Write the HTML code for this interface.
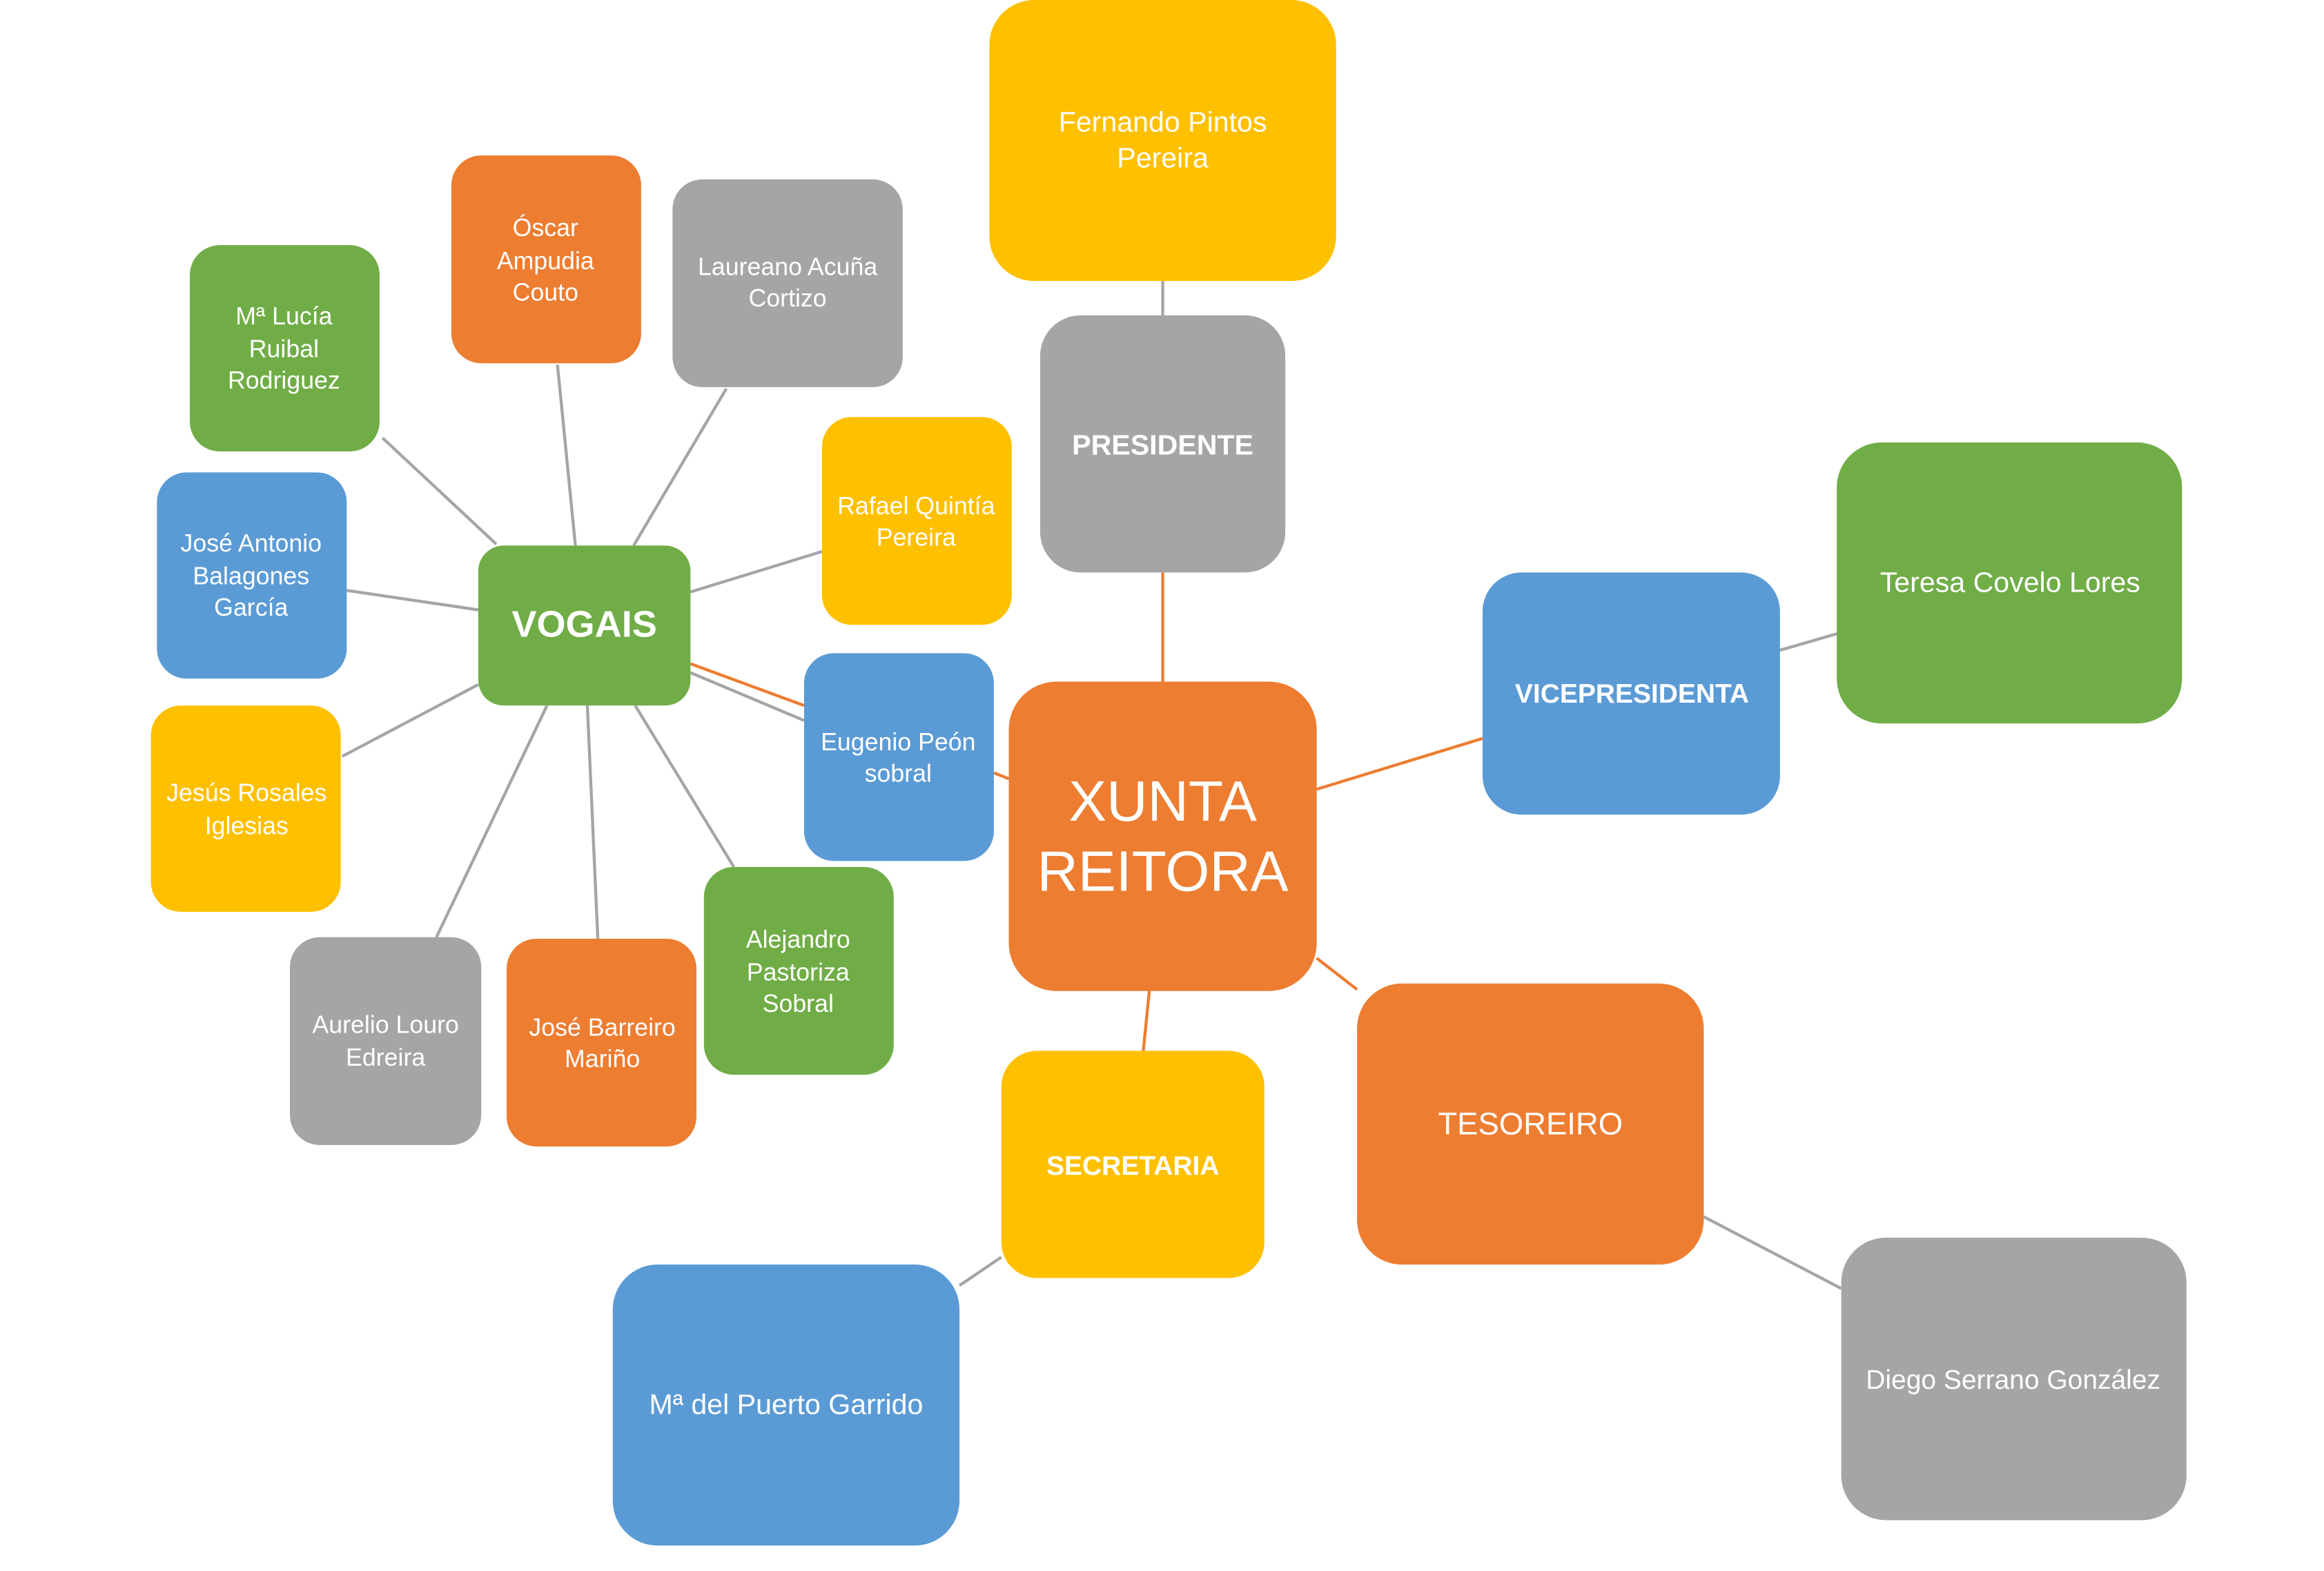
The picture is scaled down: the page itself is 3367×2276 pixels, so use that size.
<!DOCTYPE html>
<html><head><meta charset="utf-8"><style>html,body{margin:0;padding:0;background:#fff;}svg{display:block}</style></head>
<body>
<svg width="3367" height="2276" viewBox="0 0 1555 1051" preserveAspectRatio="none" xmlns="http://www.w3.org/2000/svg" font-family="'Liberation Sans', sans-serif" fill="#fff">
<g stroke="#A5A5A5" stroke-width="2" fill="none">
<line x1="256" y1="293" x2="332" y2="364"/>
<line x1="373" y1="244" x2="385" y2="365"/>
<line x1="486" y1="260" x2="424" y2="365"/>
<line x1="232" y1="395" x2="320" y2="408"/>
<line x1="550" y1="369" x2="462" y2="396"/>
<line x1="462" y1="450" x2="538" y2="482"/>
<line x1="229" y1="506" x2="320" y2="458"/>
<line x1="292" y1="627" x2="366" y2="472"/>
<line x1="400" y1="628" x2="393" y2="472"/>
<line x1="491" y1="580" x2="425" y2="472"/>
<line x1="778" y1="188" x2="778" y2="211"/>
<line x1="1191" y1="435" x2="1229" y2="424"/>
<line x1="1140" y1="814" x2="1232" y2="862"/>
<line x1="670" y1="841" x2="642" y2="860"/>
</g>
<g stroke="#ED7D31" stroke-width="2" fill="none">
<line x1="462" y1="444" x2="538" y2="472"/>
<line x1="665" y1="517" x2="675" y2="521"/>
<line x1="778" y1="383" x2="778" y2="456"/>
<line x1="881" y1="528" x2="992" y2="494"/>
<line x1="881" y1="641" x2="908" y2="662"/>
<line x1="769" y1="663" x2="765" y2="703"/>
</g>
<g>
<rect x="662" y="0" width="232" height="188" rx="30" fill="#FFC000"/>
<rect x="696" y="211" width="164" height="172" rx="27" fill="#A5A5A5"/>
<rect x="675" y="456" width="206" height="207" rx="32" fill="#ED7D31"/>
<rect x="992" y="383" width="199" height="162" rx="26" fill="#5B9BD5"/>
<rect x="1229" y="296" width="231" height="188" rx="30" fill="#70AD47"/>
<rect x="908" y="658" width="232" height="188" rx="30" fill="#ED7D31"/>
<rect x="1232" y="828" width="231" height="189" rx="30" fill="#A5A5A5"/>
<rect x="670" y="703" width="176" height="152" rx="24" fill="#FFC000"/>
<rect x="410" y="846" width="232" height="188" rx="30" fill="#5B9BD5"/>
<rect x="320" y="365" width="142" height="107" rx="17" fill="#70AD47"/>
<rect x="302" y="104" width="127" height="139" rx="20" fill="#ED7D31"/>
<rect x="450" y="120" width="154" height="139" rx="20" fill="#A5A5A5"/>
<rect x="127" y="164" width="127" height="138" rx="20" fill="#70AD47"/>
<rect x="105" y="316" width="127" height="138" rx="20" fill="#5B9BD5"/>
<rect x="550" y="279" width="127" height="139" rx="20" fill="#FFC000"/>
<rect x="538" y="437" width="127" height="139" rx="20" fill="#5B9BD5"/>
<rect x="101" y="472" width="127" height="138" rx="20" fill="#FFC000"/>
<rect x="194" y="627" width="128" height="139" rx="20" fill="#A5A5A5"/>
<rect x="339" y="628" width="127" height="139" rx="20" fill="#ED7D31"/>
<rect x="471" y="580" width="127" height="139" rx="20" fill="#70AD47"/>
</g>
<g text-anchor="middle" font-size="19">
<text x="778" y="88">Fernando Pintos</text><text x="778" y="112">Pereira</text>
<text x="778" y="304" font-weight="bold" font-size="19">PRESIDENTE</text>
<text x="778" y="549" font-size="38">XUNTA</text><text x="778" y="596" font-size="38">REITORA</text>
<text x="1092" y="470" font-weight="bold" font-size="18">VICEPRESIDENTA</text>
<text x="1345" y="396">Teresa Covelo Lores</text>
<text x="1024" y="759" font-size="21">TESOREIRO</text>
<text x="1347" y="929" font-size="18">Diego Serrano González</text>
<text x="758" y="786" font-weight="bold" font-size="18">SECRETARIA</text>
<text x="526" y="946">Mª del Puerto Garrido</text>
<text x="391" y="426" font-weight="bold" font-size="25">VOGAIS</text>
</g>
<g text-anchor="middle" font-size="16.5">
<text x="365" y="158">Óscar</text><text x="365" y="180">Ampudia</text><text x="365" y="201">Couto</text>
<text x="527" y="184">Laureano Acuña</text><text x="527" y="205">Cortizo</text>
<text x="190" y="217">Mª Lucía</text><text x="190" y="239">Ruibal</text><text x="190" y="260">Rodriguez</text>
<text x="168" y="369">José Antonio</text><text x="168" y="391">Balagones</text><text x="168" y="412">García</text>
<text x="613" y="344">Rafael Quintía</text><text x="613" y="365">Pereira</text>
<text x="601" y="502">Eugenio Peón</text><text x="601" y="523">sobral</text>
<text x="165" y="536">Jesús Rosales</text><text x="165" y="558">Iglesias</text>
<text x="258" y="691">Aurelio Louro</text><text x="258" y="713">Edreira</text>
<text x="403" y="693">José Barreiro</text><text x="403" y="714">Mariño</text>
<text x="534" y="634">Alejandro</text><text x="534" y="656">Pastoriza</text><text x="534" y="677">Sobral</text>
</g>
</svg>
</body></html>
